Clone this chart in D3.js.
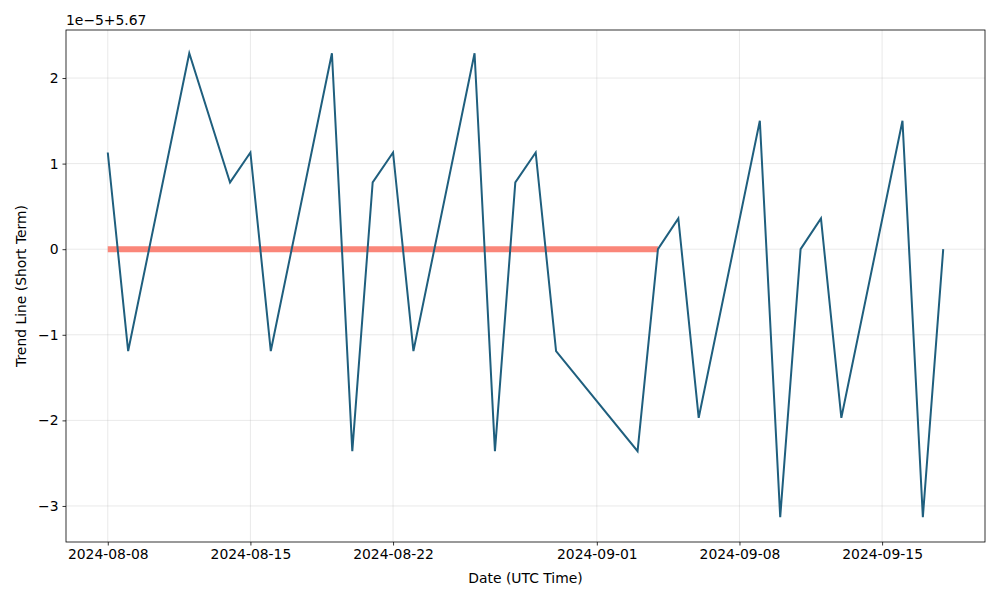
<!DOCTYPE html>
<html><head><meta charset="utf-8">
<script src="https://cdn.jsdelivr.net/npm/d3@7"></script>
<style>body{margin:0;background:#fff}svg text{font-family:"DejaVu Sans",sans-serif}</style>
</head><body>
<svg id="c" width="1000" height="600"></svg>
<script>
const trendDates = ["2024-08-08","2024-08-09","2024-08-12","2024-08-14","2024-08-15","2024-08-16","2024-08-19","2024-08-20","2024-08-21","2024-08-22","2024-08-23","2024-08-26","2024-08-27","2024-08-28","2024-08-29","2024-08-30","2024-09-03","2024-09-04","2024-09-05","2024-09-06","2024-09-09","2024-09-10","2024-09-11","2024-09-12","2024-09-13","2024-09-16","2024-09-17","2024-09-18"];
const trendValues = [5.6700113,5.6699881,5.6700229,5.6700078,5.6700113,5.6699881,5.6700229,5.6699764,5.6700078,5.6700113,5.6699881,5.6700229,5.6699764,5.6700078,5.6700113,5.6699881,5.6699764,5.67,5.6700036,5.6699803,5.670015,5.6699687,5.67,5.6700036,5.6699803,5.670015,5.6699687,5.67];
const flatStart = "2024-08-08", flatEnd = "2024-09-04";
const flatValue = 5.67;
const yOffset = 5.67, yScaleExp = 1e-5;
const xTickLabels = ["2024-08-08","2024-08-15","2024-08-22","2024-09-01","2024-09-08","2024-09-15"];
const yTickLabels = [-3,-2,-1,0,1,2];

const parse = d3.utcParse("%Y-%m-%d");
const trend = trendDates.map((d,i)=>({date:parse(d), v:trendValues[i]}));
const flat = d3.utcDays(parse(flatStart), d3.utcDay.offset(parse(flatEnd),1)).map(d=>({date:d, v:flatValue}));

const L=66,R=985,T=30,B=542;
const FS=13.9;
const svg=d3.select("#c");
const xe=d3.extent(trend,d=>d.date), xs=(xe[1]-xe[0])*0.05;
const x=d3.scaleUtc().domain([new Date(+xe[0]-xs), new Date(+xe[1]+xs)]).range([L,R]);
const ye=d3.extent(trend,d=>d.v), ys=(ye[1]-ye[0])*0.05;
const y=d3.scaleLinear().domain([ye[0]-ys-0.02e-5, ye[1]+ys]).range([B,T]);

const xticks=xTickLabels.map(parse);
const yticks=yTickLabels.map(k=>yOffset+k*yScaleExp);

// grid
const g=svg.append("g");
g.selectAll(".gx").data(xticks).enter().append("line").attr("x1",d=>x(d)).attr("x2",d=>x(d)).attr("y1",T).attr("y2",B).attr("stroke","#b0b0b0").attr("stroke-opacity",0.35).attr("stroke-width",0.8);
g.selectAll(".gy").data(yticks).enter().append("line").attr("y1",d=>y(d)).attr("y2",d=>y(d)).attr("x1",L).attr("x2",R).attr("stroke","#b0b0b0").attr("stroke-opacity",0.35).attr("stroke-width",0.8);

// flat line
const line=d3.line().x(d=>x(d.date)).y(d=>y(d.v));
svg.append("path").datum(flat).attr("d",line).attr("fill","none").attr("stroke","#fa8072").attr("stroke-opacity",0.95).attr("stroke-width",6);
// trend line
svg.append("path").datum(trend).attr("d",line).attr("fill","none").attr("stroke","#1f5f7e").attr("stroke-width",2).attr("stroke-linejoin","miter");

// axes
const fmt=v=>{const k=Math.round((v-yOffset)/yScaleExp);return k<0?"\u2212"+(-k):String(k);};
const xa=svg.append("g").attr("transform",`translate(0,${B})`).call(d3.axisBottom(x).tickValues(xticks).tickFormat(d3.utcFormat("%Y-%m-%d")).tickSize(3.5).tickPadding(4));
const ya=svg.append("g").attr("transform",`translate(${L},0)`).call(d3.axisLeft(y).tickValues(yticks).tickFormat(fmt).tickSize(3.5).tickPadding(4));
[xa,ya].forEach(a=>{a.select(".domain").remove();a.selectAll("text").attr("font-size",FS).attr("fill","#000").attr("font-family","DejaVu Sans");a.selectAll("line").attr("stroke","#000").attr("stroke-width",0.8);});
svg.append("rect").attr("x",L).attr("y",T).attr("width",R-L).attr("height",B-T).attr("fill","none").attr("stroke","#000").attr("stroke-width",0.8);

svg.append("text").attr("x",L).attr("y",25).attr("font-size",FS).text("1e\u22125+5.67");
svg.append("text").attr("x",(L+R)/2).attr("y",583).attr("text-anchor","middle").attr("font-size",FS).text("Date (UTC Time)");
svg.append("text").attr("transform",`translate(26,${(T+B)/2}) rotate(-90)`).attr("text-anchor","middle").attr("font-size",FS).text("Trend Line (Short Term)");
</script></body></html>
